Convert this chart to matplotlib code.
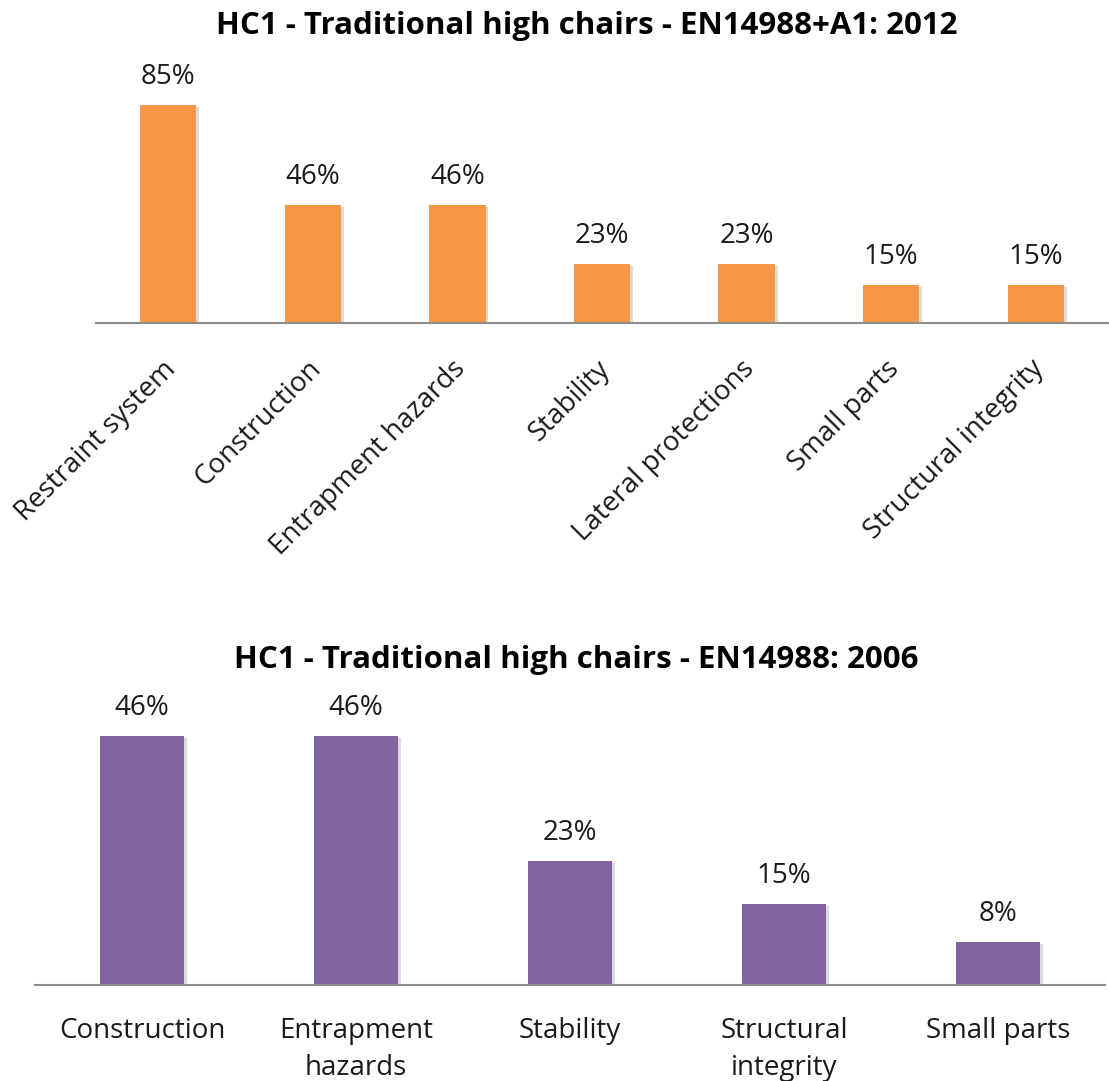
import matplotlib
matplotlib.use("Agg")
import matplotlib.pyplot as plt
import matplotlib.patheffects as pe
from matplotlib.transforms import ScaledTranslation

# ---- data ----
top_title = "HC1 - Traditional high chairs - EN14988+A1: 2012"
top_categories = [
    "Restraint system",
    "Construction",
    "Entrapment hazards",
    "Stability",
    "Lateral protections",
    "Small parts",
    "Structural integrity",
]
top_values = [85, 46, 46, 23, 23, 15, 15]

bottom_title = "HC1 - Traditional high chairs - EN14988: 2006"
bottom_categories = [
    "Construction",
    "Entrapment\nhazards",
    "Stability",
    "Structural\nintegrity",
    "Small parts",
]
bottom_values = [46, 46, 23, 15, 8]

ORANGE = "#F79646"
PURPLE = "#8064A2"
AXIS = "#8c8c8c"
TEXT = "#1a1a1a"

plt.rcParams["font.family"] = ["Open Sans", "DejaVu Sans"]

W, H = 1109, 1081
fig = plt.figure(figsize=(W / 100, H / 100), dpi=100)

shadow = [pe.SimplePatchShadow(offset=(2, -1.5), shadow_rgbFace="#888888", alpha=0.3),
          pe.Normal()]


def style_axes(ax):
    for side in ("left", "right", "top"):
        ax.spines[side].set_visible(False)
    ax.spines["bottom"].set_color(AXIS)
    ax.spines["bottom"].set_linewidth(1.5)
    ax.set_yticks([])
    ax.tick_params(axis="x", length=0, colors=TEXT)


def draw(ax, cats, vals, color, width):
    x = range(len(cats))
    bars = ax.bar(x, vals, width=width, color=color, zorder=2)
    for b in bars:
        b.set_path_effects(shadow)
    for xi, v in zip(x, vals):
        ax.annotate(f"{v}%", (xi, v), xytext=(0, 10), textcoords="offset points",
                    ha="center", va="bottom", fontsize=20, color=TEXT)
    ax.set_xlim(-0.5, len(cats) - 0.5)
    style_axes(ax)


# ---- top chart ----
ax1 = fig.add_axes([96 / W, 1 - 323 / H, 1012 / W, 256.5 / H])
draw(ax1, top_categories, top_values, ORANGE, 0.39)
ax1.set_ylim(0, 100)
ax1.set_xticks(range(len(top_categories)))
ax1.set_xticklabels(top_categories, rotation=45, ha="right", rotation_mode="anchor",
                    fontsize=20)
ax1.tick_params(axis="x", pad=23)
# nudge the slanted labels a little to the left
shift = ScaledTranslation(-6 / 100, 0, fig.dpi_scale_trans)
for lbl in ax1.get_xticklabels():
    lbl.set_transform(lbl.get_transform() + shift)
fig.text(587 / W, 1 - 26 / H, top_title, ha="center", va="center",
         fontsize=22.5, fontweight="bold", color="black")

# ---- bottom chart ----
ax2 = fig.add_axes([35 / W, 1 - 985 / H, 1070 / W, 281.4 / H])
draw(ax2, bottom_categories, bottom_values, PURPLE, 0.39)
ax2.set_ylim(0, 52)
ax2.set_xticks(range(len(bottom_categories)))
ax2.set_xticklabels(bottom_categories, fontsize=20, linespacing=1.45)
ax2.tick_params(axis="x", pad=23)
fig.text(576 / W, 1 - 660 / H, bottom_title, ha="center", va="center",
         fontsize=22.5, fontweight="bold", color="black")

fig.savefig("out.png", dpi=100, facecolor="white")
